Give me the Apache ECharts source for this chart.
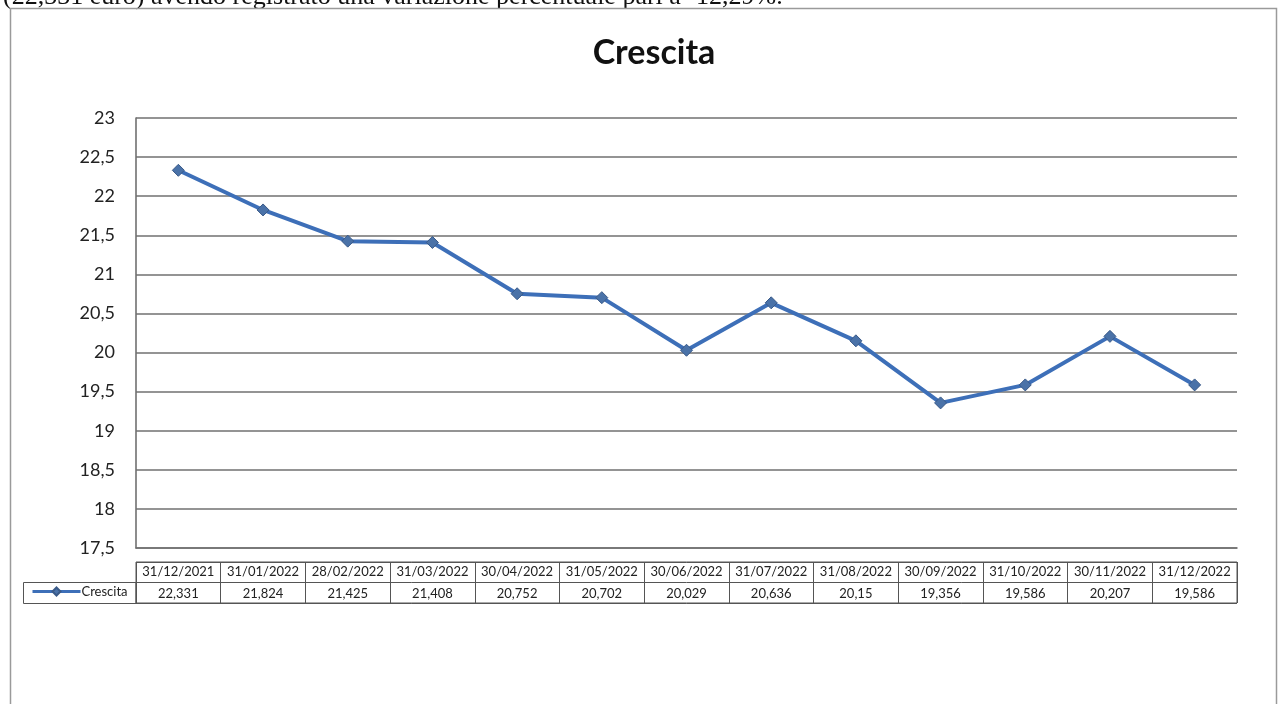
<!DOCTYPE html>
<html>
<head>
<meta charset="utf-8">
<script src="https://cdn.jsdelivr.net/npm/echarts@6/dist/echarts.min.js"></script>
<style>
html,body{margin:0;padding:0;background:#fff;}
#chart{width:1279px;height:704px;}
</style>
</head>
<body>
<div id="chart"></div>
<script>
var categories = ['31/12/2021','31/01/2022','28/02/2022','31/03/2022','30/04/2022','31/05/2022','30/06/2022','31/07/2022','31/08/2022','30/09/2022','31/10/2022','30/11/2022','31/12/2022'];
var values = [22.331, 21.824, 21.425, 21.408, 20.752, 20.702, 20.029, 20.636, 20.15, 19.356, 19.586, 20.207, 19.586];
var yTicks = [17.5, 18, 18.5, 19, 19.5, 20, 20.5, 21, 21.5, 22, 22.5, 23];
var seriesName = 'Crescita';
var titleText = 'Crescita';
var topText = '(22,331 euro) avendo registrato una variazione percentuale pari a -12,29%.';

function fmt(v){ return String(v).replace('.', ','); }

var chart = echarts.init(document.getElementById('chart'));
var font = 'Lato, "Open Sans", sans-serif';
var lineColor = '#3d6fb8';
var gridColor = '#707070';

chart.setOption({
  animation: false,
  backgroundColor: '#fff',
  title: {
    text: titleText,
    left: 649, top: 31, textAlign: 'center',
    textStyle: {fontFamily: font, fontWeight: 'bold', fontSize: 34, color: '#111'}
  },
  legend: {
    data: [seriesName],
    left: 31, top: 585,
    itemWidth: 48, itemHeight: 10, itemGap: 2,
    lineStyle: {width: 3},
    textStyle: {fontFamily: font, fontSize: 13, color: '#222', padding: [0,0,0,-4]},
    padding: 0
  },
  graphic: [
    {type: 'text', left: 3, top: -16, style: {text: topText, font: '26px "Liberation Serif", "DejaVu Serif", serif', fill: '#111'}},
    {type: 'rect', shape: {x: 10.5, y: 8.5, width: 1266, height: 720}, style: {fill: 'none', stroke: '#9a9a9a', lineWidth: 1.5}, silent: true},
    {type: 'rect', shape: {x: 23.5, y: 582.5, width: 112.5, height: 21}, style: {fill: 'none', stroke: '#555', lineWidth: 1}, silent: true, z: 10}
  ],
  grid: [
    {left: 136, right: 42, top: 118, height: 430, containLabel: false},
    {left: 136, right: 42, top: 562, height: 41, show: true, borderColor: '#555', borderWidth: 1, backgroundColor: 'transparent'}
  ],
  xAxis: [
    {
      type: 'category', gridIndex: 0, data: categories, boundaryGap: true,
      axisLine: {show: true, lineStyle: {color: gridColor, width: 1.6}},
      axisTick: {show: false}, axisLabel: {show: false}, splitLine: {show: false}
    },
    {
      type: 'category', gridIndex: 1, data: categories, position: 'top', boundaryGap: true,
      axisLine: {show: false}, axisTick: {show: false},
      axisLabel: {show: true, inside: true, margin: 3, fontFamily: font, fontSize: 13, color: '#222', interval: 0},
      splitLine: {show: true, interval: 0, lineStyle: {color: '#555', width: 1}}
    },
    {
      type: 'category', gridIndex: 1, data: values.map(fmt), position: 'bottom', boundaryGap: true,
      axisLine: {show: false}, axisTick: {show: false},
      axisLabel: {show: true, inside: true, margin: 3, fontFamily: font, fontSize: 13, color: '#222', interval: 0},
      splitLine: {show: false}
    }
  ],
  yAxis: [
    {
      type: 'value', gridIndex: 0, min: yTicks[0], max: yTicks[yTicks.length-1], interval: 0.5,
      axisLine: {show: true, lineStyle: {color: gridColor, width: 1.6}},
      axisTick: {show: false},
      axisLabel: {fontFamily: font, fontSize: 18, color: '#222', margin: 21, formatter: function(v){ return fmt(v); }},
      splitLine: {show: true, lineStyle: {color: gridColor, width: 1.6}}
    },
    {
      type: 'value', gridIndex: 1, min: 0, max: 2, interval: 1,
      axisLine: {show: false}, axisTick: {show: false}, axisLabel: {show: false},
      splitLine: {show: true, lineStyle: {color: '#555', width: 1}}
    }
  ],
  series: [{
    name: seriesName, type: 'line', xAxisIndex: 0, yAxisIndex: 0,
    data: values,
    symbol: 'diamond', symbolSize: 12,
    lineStyle: {color: lineColor, width: 4},
    itemStyle: {color: '#4a72a8', borderColor: '#3a5a88', borderWidth: 1},
    z: 5
  }]
});
</script>
</body>
</html>
